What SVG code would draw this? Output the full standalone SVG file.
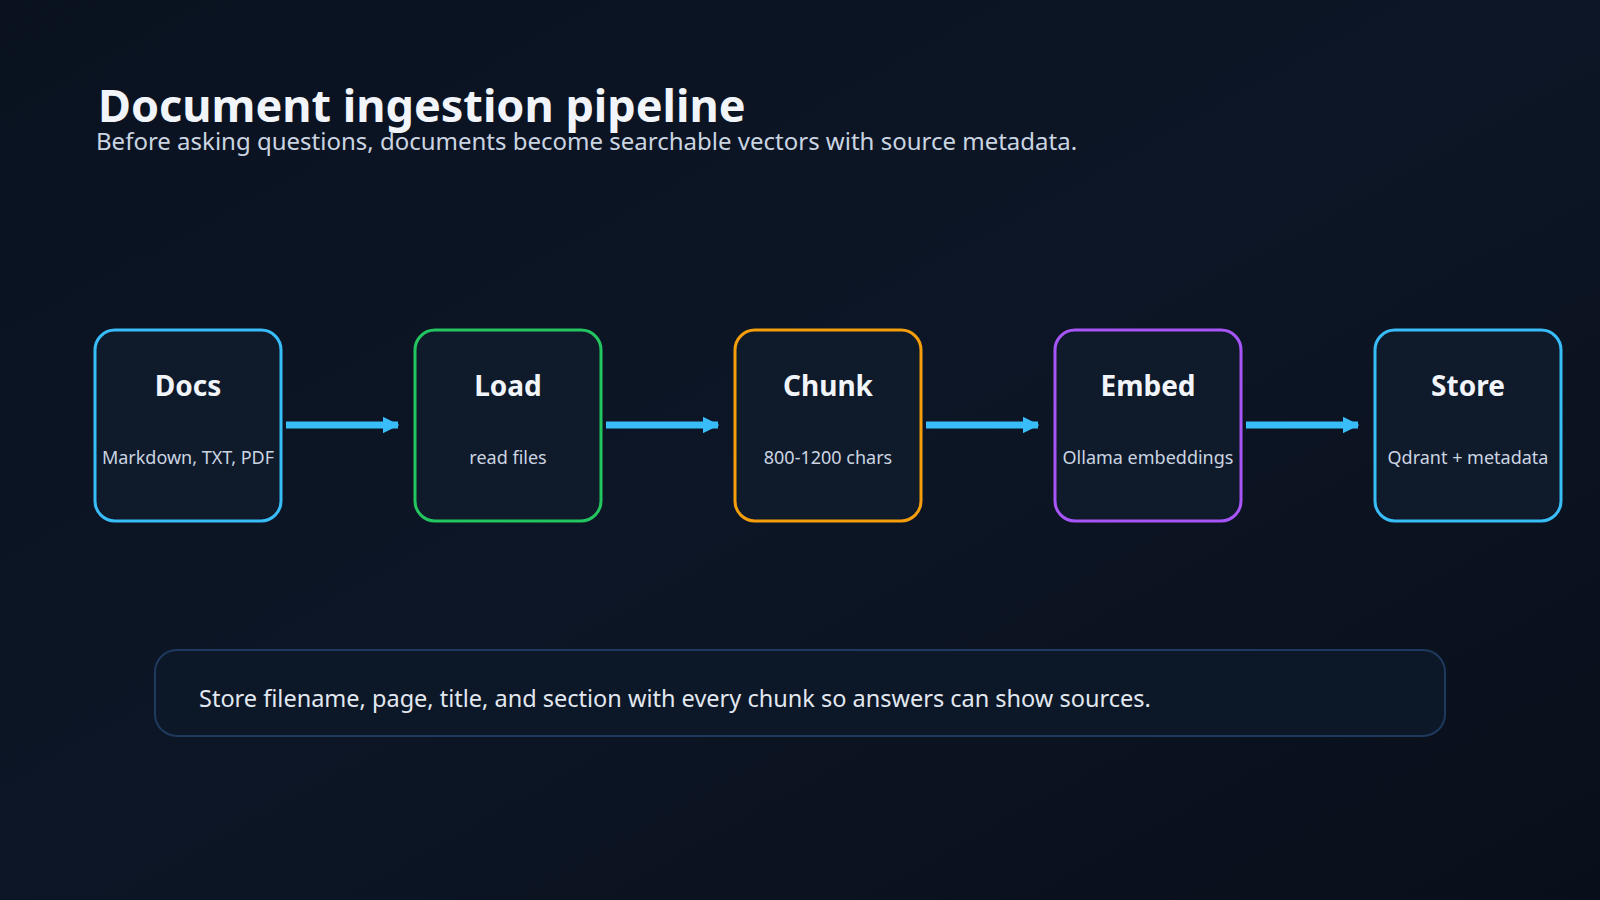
<svg xmlns="http://www.w3.org/2000/svg" width="1600" height="900" viewBox="0 0 1600 900">
<defs>
<linearGradient id="bg" x1="0" y1="0" x2="1" y2="1">
<stop offset="0" stop-color="#0a1220"/><stop offset="0.5" stop-color="#0d1626"/><stop offset="1" stop-color="#090f1a"/>
</linearGradient>
<marker id="ah" markerWidth="2.4" markerHeight="2.4" refX="2.2" refY="1.2" orient="auto" markerUnits="strokeWidth">
<path d="M0,0 L2.4,1.2 L0,2.4 Z" fill="#38bdf8"/>
</marker>
<style>
text{font-family:"Noto Sans","Open Sans","DejaVu Sans",sans-serif;fill:#f1f5f9}
.box{fill:#0f1a2b;stroke-width:3}
.t{font-size:28px;font-weight:bold;text-anchor:middle}
.s{font-size:18px;text-anchor:middle;fill:#cbd5e1}
.c{stroke:#38bdf8;stroke-width:7;fill:none;marker-end:url(#ah)}
</style>
</defs>
<rect width="1600" height="900" fill="url(#bg)"/>
<text x="98" y="122" font-size="45" font-weight="bold">Document ingestion pipeline</text>
<text x="96" y="150" font-size="24" style="fill:#cbd5e1">Before asking questions, documents become searchable vectors with source metadata.</text>
<g id="docs"><rect class="box" x="95" y="330" width="186" height="191" rx="20" stroke="#38bdf8"/><text class="t" x="188" y="396">Docs</text><text class="s" x="188" y="464">Markdown, TXT, PDF</text></g>
<g id="load"><rect class="box" x="415" y="330" width="186" height="191" rx="20" stroke="#22c55e"/><text class="t" x="508" y="396">Load</text><text class="s" x="508" y="464">read files</text></g>
<g id="chunk"><rect class="box" x="735" y="330" width="186" height="191" rx="20" stroke="#f59e0b"/><text class="t" x="828" y="396">Chunk</text><text class="s" x="828" y="464">800-1200 chars</text></g>
<g id="embed"><rect class="box" x="1055" y="330" width="186" height="191" rx="20" stroke="#a855f7"/><text class="t" x="1148" y="396">Embed</text><text class="s" x="1148" y="464">Ollama embeddings</text></g>
<g id="store"><rect class="box" x="1375" y="330" width="186" height="191" rx="20" stroke="#38bdf8"/><text class="t" x="1468" y="396">Store</text><text class="s" x="1468" y="464">Qdrant + metadata</text></g>
<g id="connectors">
<line class="c" x1="286" y1="425" x2="398" y2="425"/>
<line class="c" x1="606" y1="425" x2="718" y2="425"/>
<line class="c" x1="926" y1="425" x2="1038" y2="425"/>
<line class="c" x1="1246" y1="425" x2="1358" y2="425"/>
</g>
<g id="note"><rect x="155" y="650" width="1290" height="86" rx="22" fill="#0c1727" stroke="#1e3a5f" stroke-width="2"/><text x="199" y="707" font-size="23.5" style="fill:#e2e8f0">Store filename, page, title, and section with every chunk so answers can show sources.</text></g>
</svg>
